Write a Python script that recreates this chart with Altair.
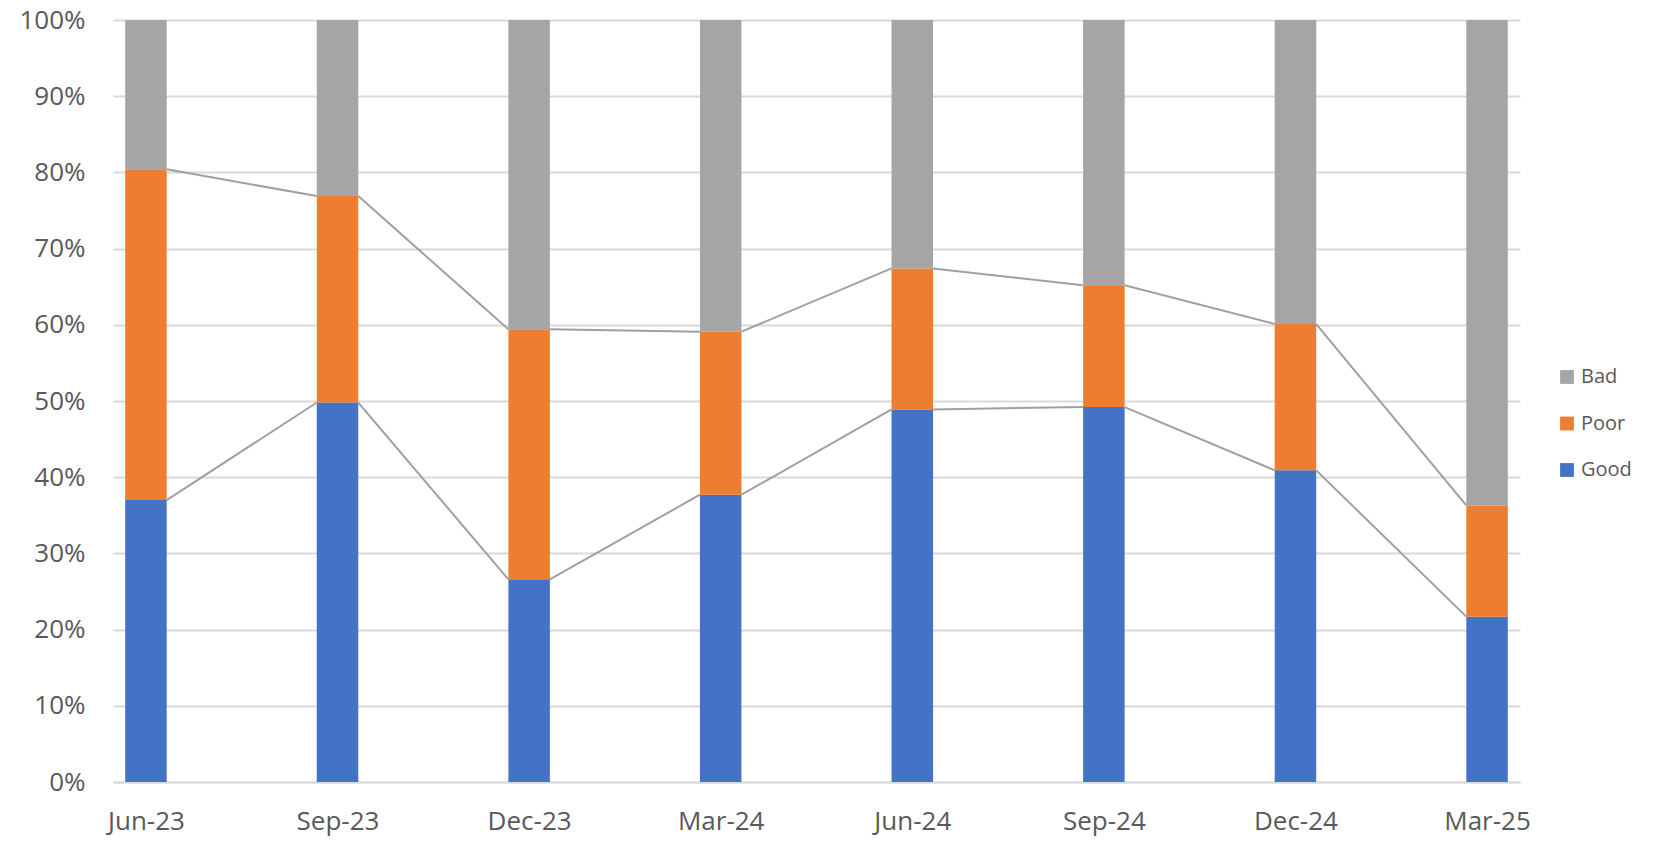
import altair as alt
import pandas as pd

categories = ["Jun-23", "Sep-23", "Dec-23", "Mar-24", "Jun-24", "Sep-24", "Dec-24", "Mar-25"]
good = [37.0, 49.8, 26.6, 37.7, 48.9, 49.2, 40.9, 21.7]
poor = [43.4, 27.1, 32.8, 21.4, 18.5, 16.0, 19.2, 14.6]
bad = [19.6, 23.1, 40.6, 40.9, 32.6, 34.8, 39.9, 63.7]
series_names = ["Good", "Poor", "Bad"]
colors = {"Good": "#4472C4", "Poor": "#ED7D31", "Bad": "#A5A5A5"}

rows = []
for i, c in enumerate(categories):
    for k, (name, vals) in enumerate(zip(series_names, [good, poor, bad])):
        rows.append({"idx": i, "cat": c, "series": name, "value": vals[i], "ord": k})
df = pd.DataFrame(rows)

cum_poor = [g + p for g, p in zip(good, poor)]
seg = []
for i in range(len(categories) - 1):
    seg.append({"x": i, "x2": i + 1, "y": good[i], "y2": good[i + 1], "line": "good"})
    seg.append({"x": i, "x2": i + 1, "y": cum_poor[i], "y2": cum_poor[i + 1], "line": "poor"})
seg_df = pd.DataFrame(seg)

label_arr = "[" + ",".join("'" + c + "'" for c in categories) + "]"
FONT = "Open Sans"
pad = 0.172
xscale = alt.Scale(domain=[-pad, len(categories) - 1 + pad], nice=False, zero=False, padding=0)
yscale = alt.Scale(domain=[0, 100], nice=False, padding=0)

x_axis = alt.Axis(
    values=list(range(len(categories))),
    labelExpr=label_arr + "[datum.value]",
    title=None, grid=False, ticks=False, tickSize=0,
    domain=True, domainColor="#D9D9D9", domainWidth=2,
    labelFont=FONT, labelFontSize=26, labelColor="#595959", labelPadding=26,
)
y_axis = alt.Axis(
    values=list(range(0, 101, 10)),
    labelExpr="datum.value + '%'",
    title=None, grid=True, gridColor="#D9D9D9", gridWidth=2,
    ticks=False, tickSize=0, domain=False,
    labelFont=FONT, labelFontSize=26, labelColor="#595959", labelPadding=28,
)

bars = alt.Chart(df).mark_bar(size=41.5).encode(
    x=alt.X("idx:Q", scale=xscale, axis=x_axis),
    y=alt.Y("value:Q", stack="zero", scale=yscale, axis=y_axis),
    color=alt.Color(
        "series:N",
        scale=alt.Scale(domain=["Bad", "Poor", "Good"], range=[colors["Bad"], colors["Poor"], colors["Good"]]),
        legend=alt.Legend(
            title=None, orient="none", legendX=1444, legendY=347,
            symbolType="square", symbolSize=190, symbolStrokeWidth=0,
            labelFont=FONT, labelFontSize=20, labelColor="#595959",
            rowPadding=26.5, padding=0, labelOffset=4,
        ),
    ),
    order=alt.Order("ord:Q", sort="ascending"),
)

lines = alt.Chart(seg_df).mark_rule(color="#A0A0A0", strokeWidth=2, xOffset=20.75, x2Offset=-20.75).encode(
    x=alt.X("x:Q", scale=xscale),
    x2="x2:Q",
    y=alt.Y("y:Q", scale=yscale),
    y2="y2:Q",
)

chart = alt.layer(bars, lines).properties(
    width=1407, height=762,
    padding={"left": 113, "top": 20, "right": 143, "bottom": 62},
    autosize=alt.AutoSizeParams(type="none"),
    background="white",
).configure_view(stroke=None)

chart.save("out.html", embed_options={"renderer": "svg", "actions": False})
